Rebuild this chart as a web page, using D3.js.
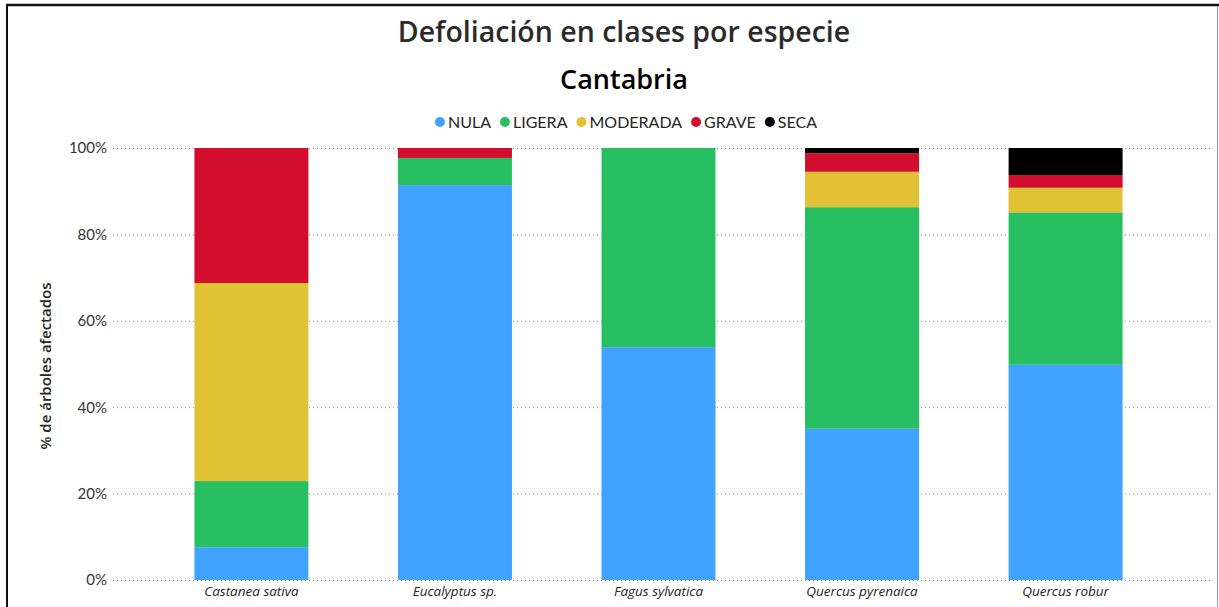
<!DOCTYPE html>
<html>
<head>
<meta charset="utf-8">
<script src="https://cdn.jsdelivr.net/npm/d3@7"></script>
<style>
  body { margin: 0; background: #fff; }
  svg { display: block; }
</style>
</head>
<body>
<svg width="1219" height="607"></svg>
<script>
// data
var species = ["Castanea sativa", "Eucalyptus sp.", "Fagus sylvatica", "Quercus pyrenaica", "Quercus robur"];
var classes = ["NULA", "LIGERA", "MODERADA", "GRAVE", "SECA"];
var classColors = ["#41a3ff", "#28be62", "#e0c234", "#d30d2e", "#000000"];
var nula     = [7.6, 91.4, 53.9, 35.0, 49.8];
var ligera   = [15.3, 6.3, 46.1, 51.3, 35.3];
var moderada = [45.85, 0, 0, 8.2, 5.7];
var grave    = [31.25, 2.3, 0, 4.3, 2.95];
var seca     = [0, 0, 0, 1.2, 6.25];
var yTicks = [0, 20, 40, 60, 80, 100];

var rows = species.map((s, i) => ({
    especie: s,
    NULA: nula[i], LIGERA: ligera[i], MODERADA: moderada[i], GRAVE: grave[i], SECA: seca[i]
}));

var svg = d3.select("svg");

// frame
svg.append("line").attr("x1", 6).attr("x2", 1219).attr("y1", 5).attr("y2", 5)
    .attr("stroke", "#111").attr("stroke-width", 2.5);
svg.append("line").attr("x1", 7).attr("x2", 7).attr("y1", 4).attr("y2", 607)
    .attr("stroke", "#111").attr("stroke-width", 2);
svg.append("line").attr("x1", 1217.5).attr("x2", 1217.5).attr("y1", 6).attr("y2", 607)
    .attr("stroke", "#999").attr("stroke-width", 1);

// titles
svg.append("text").attr("x", 624).attr("y", 42).attr("text-anchor", "middle")
    .style("font-family", "'Open Sans', sans-serif").style("font-size", "28.5px").style("font-weight", 600)
    .attr("fill", "#2b2a29").text("Defoliación en clases por especie");
svg.append("text").attr("x", 624).attr("y", 89).attr("text-anchor", "middle")
    .style("font-family", "'Open Sans', sans-serif").style("font-size", "27px").style("font-weight", 600)
    .attr("fill", "#000").text("Cantabria");

// legend, laid out from measured text widths and centred
var legend = svg.append("g");
var cursor = 0;
classes.forEach((c, i) => {
    legend.append("circle").attr("cx", cursor + 5).attr("cy", 122).attr("r", 5).attr("fill", classColors[i]);
    var t = legend.append("text").attr("x", cursor + 13).attr("y", 127.5)
        .style("font-family", "Lato, sans-serif").style("font-size", "16px")
        .attr("fill", "#252423").text(c);
    cursor += 13 + t.node().getComputedTextLength() + 9;
});
legend.attr("transform", "translate(" + (626 - (cursor - 9) / 2) + ",0)");

var x = d3.scaleBand().domain(species).range([113, 1204]).paddingInner(0.44).paddingOuter(0.4);
var y = d3.scaleLinear().domain([0, 100]).range([580, 148]);
var color = d3.scaleOrdinal().domain(classes).range(classColors);

// grid
var gridG = svg.append("g");
gridG.selectAll("line").data(yTicks).join("line")
    .attr("x1", 113).attr("x2", 1213)
    .attr("y1", d => y(d) + 0.5).attr("y2", d => y(d) + 0.5)
    .attr("stroke", "#8a8a8a").attr("stroke-width", 1).attr("stroke-dasharray", "1,3");

// y axis labels
var yAxis = d3.axisLeft(y).tickValues(yTicks).tickFormat(d => d + "%").tickSize(0).tickPadding(0);
var yg = svg.append("g").attr("transform", "translate(107,0)").call(yAxis);
yg.select(".domain").remove();
yg.selectAll("text").style("font-family", "Lato, sans-serif").style("font-size", "15px").attr("fill", "#333");

svg.append("text").attr("transform", "translate(51,366) rotate(-90)").attr("text-anchor", "middle")
    .style("font-family", "'Open Sans', sans-serif").style("font-size", "15px").style("font-weight", 600)
    .attr("fill", "#252423").text("% de árboles afectados");

// bars
var stack = d3.stack().keys(classes)(rows);
svg.append("g").selectAll("g").data(stack).join("g")
    .attr("fill", d => color(d.key))
    .selectAll("rect").data(d => d).join("rect")
    .attr("x", d => x(d.data.especie))
    .attr("width", x.bandwidth())
    .attr("y", d => y(d[1]))
    .attr("height", d => y(d[0]) - y(d[1]));

// x axis labels
var xAxis = d3.axisBottom(x).tickSize(0).tickPadding(0);
var xg = svg.append("g").attr("transform", "translate(0,586)").call(xAxis);
xg.select(".domain").remove();
xg.selectAll("text").style("font-family", "'Open Sans', sans-serif").style("font-size", "13.5px")
    .style("font-style", "italic").attr("fill", "#252423");
</script>
</body>
</html>
